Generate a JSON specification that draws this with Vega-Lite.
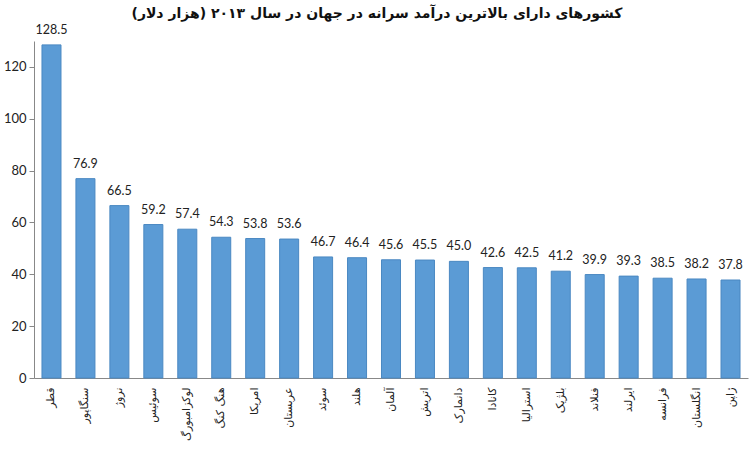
{
  "$schema": "https://vega.github.io/schema/vega-lite/v6.json",
  "width": 714,
  "height": 337,
  "autosize": {"type": "none"},
  "padding": {"left": 34, "top": 41, "right": 2, "bottom": 75},
  "background": "white",
  "title": {
    "text": "‏کشورهای دارای بالاترین درآمد سرانه در جهان در سال ۲۰۱۳ (هزار دلار)‏",
    "font": "DejaVu Sans",
    "fontSize": 14,
    "fontWeight": "bold",
    "color": "#111",
    "anchor": "middle",
    "baseline": "bottom",
    "offset": -11,
    "dx": -14
  },
  "data": {
    "values": [
      {"country": "قطر", "income": 128.5},
      {"country": "سنگاپور", "income": 76.9},
      {"country": "نروژ", "income": 66.5},
      {"country": "سوئیس", "income": 59.2},
      {"country": "لوکزامبورگ", "income": 57.4},
      {"country": "هنگ کنگ", "income": 54.3},
      {"country": "امریکا", "income": 53.8},
      {"country": "عربستان", "income": 53.6},
      {"country": "سوئد", "income": 46.7},
      {"country": "هلند", "income": 46.4},
      {"country": "آلمان", "income": 45.6},
      {"country": "اتریش", "income": 45.5},
      {"country": "دانمارک", "income": 45.0},
      {"country": "کانادا", "income": 42.6},
      {"country": "استرالیا", "income": 42.5},
      {"country": "بلژیک", "income": 41.2},
      {"country": "فنلاند", "income": 39.9},
      {"country": "ایرلند", "income": 39.3},
      {"country": "فرانسه", "income": 38.5},
      {"country": "انگلستان", "income": 38.2},
      {"country": "ژاپن", "income": 37.8}
    ]
  },
  "encoding": {
    "x": {
      "field": "country",
      "type": "nominal",
      "sort": null,
      "title": null,
      "scale": {"paddingInner": 0.44, "paddingOuter": 0.235},
      "axis": {
        "labelAngle": -90,
        "ticks": false,
        "domainColor": "#888888",
        "labelFont": "DejaVu Sans",
        "labelFontSize": 11,
        "labelColor": "#222222",
        "labelPadding": 9
      }
    },
    "y": {
      "field": "income",
      "type": "quantitative",
      "title": null,
      "scale": {"domain": [0, 130], "nice": false},
      "axis": {
        "values": [0, 20, 40, 60, 80, 100, 120],
        "grid": false,
        "domainColor": "#888888",
        "tickColor": "#888888",
        "tickSize": 5,
        "labelFont": "Lato",
        "labelFontSize": 13,
        "labelColor": "#222222",
        "labelPadding": 3
      }
    }
  },
  "layer": [
    {
      "mark": {"type": "bar", "color": "#5B9BD5", "stroke": "#4A88C2", "strokeWidth": 1}
    },
    {
      "mark": {"type": "text", "baseline": "alphabetic", "dy": -11, "font": "Lato", "fontSize": 12.5, "color": "#222222"},
      "encoding": {
        "text": {"field": "income", "type": "quantitative", "format": ".1f"}
      }
    }
  ],
  "config": {"view": {"stroke": null}}
}
